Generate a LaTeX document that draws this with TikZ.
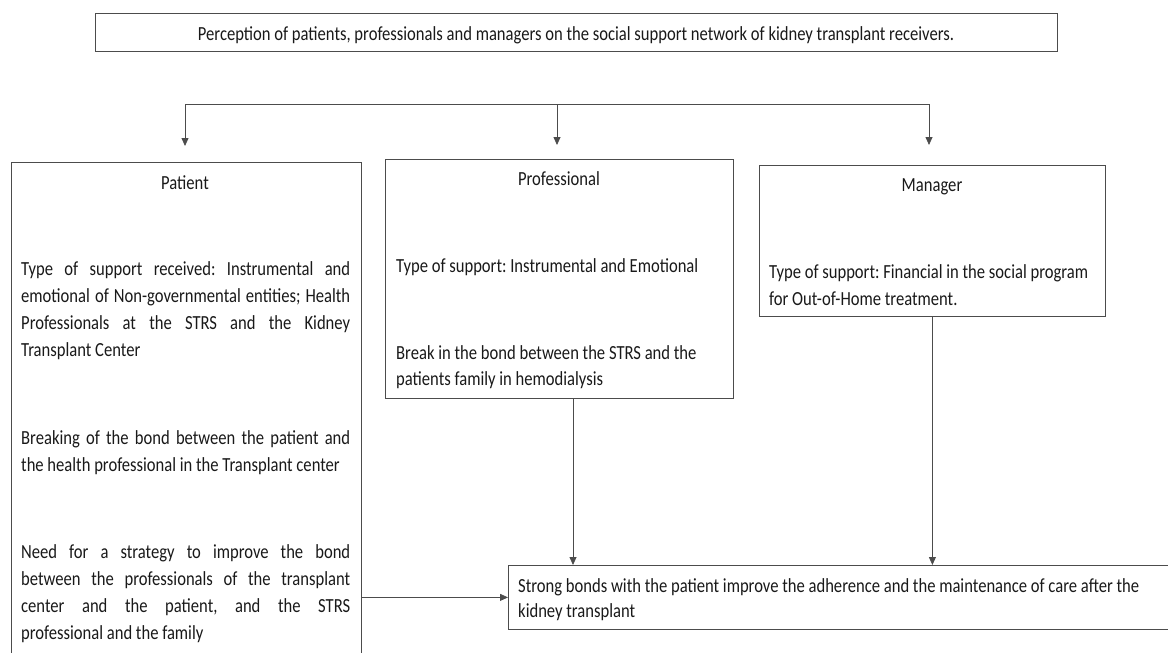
\documentclass[tikz,border=0pt]{standalone}
\usepackage{fontspec}
\setmainfont{Carlito}[FakeStretch=0.83]
\usetikzlibrary{arrows.meta}
\tikzset{
  box/.style={draw=black!70, line width=0.8pt, rectangle, inner sep=0pt, anchor=north west},
  conn/.style={draw=black!70, line width=0.8pt},
  arr/.style={conn, -{Triangle[length=8pt,width=7pt]}},
  txt/.style={inner sep=0pt, text=black!90, font=\fontsize{20}{27}\selectfont},
}
\newcommand{\jline}[1]{\makebox[\linewidth][s]{#1}}
\frenchspacing
\begin{document}
\frenchspacing
\begin{tikzpicture}[x=1pt,y=-1pt]
\clip (0,0) rectangle (1168,653);
% boxes
\node[box, minimum width=962pt, minimum height=38pt] (title) at (95,13) {};
\node[box, minimum width=350pt, minimum height=540pt] (patient) at (11,162) {};
\node[box, minimum width=348pt, minimum height=239pt] (prof) at (385,159) {};
\node[box, minimum width=346pt, minimum height=151pt] (man) at (759,165) {};
\node[box, minimum width=680pt, minimum height=64pt] (strong) at (508,565) {};
% texts
\node[txt, anchor=base] (titletext) at (576,40) {Perception of patients, professionals and managers on the social support network of kidney transplant receivers.};
\node[txt, anchor=base] (pathead) at (185,189) {Patient};
\node[txt, anchor=base west] (pat1) at (21,275) {\parbox[t]{329pt}{\fontsize{20}{27}\selectfont
  \jline{Type of support received: Instrumental and}\\
  \jline{emotional of Non-governmental entities; Health}\\
  \jline{Professionals at the STRS and the Kidney}\\
  Transplant Center}};
\node[txt, anchor=base west] (pat2) at (21,444) {\parbox[t]{329pt}{\fontsize{20}{27}\selectfont
  \jline{Breaking of the bond between the patient and}\\
  the health professional in the Transplant center}};
\node[txt, anchor=base west] (pat3) at (21,558) {\parbox[t]{329pt}{\fontsize{20}{27}\selectfont
  \jline{Need for a strategy to improve the bond}\\
  \jline{between the professionals of the transplant}\\
  \jline{center and the patient, and the STRS}\\
  professional and the family}};
\node[txt, anchor=base] (profhead) at (559,185) {Professional};
\node[txt, anchor=base west] (prof1) at (396,272) {Type of support: Instrumental and Emotional};
\node[txt, anchor=base west] (prof2) at (396,359) {\parbox[t]{330pt}{\fontsize{20}{26}\selectfont
  Break in the bond between the STRS and the\\
  patients family in hemodialysis}};
\node[txt, anchor=base] (manhead) at (932,191) {Manager};
\node[txt, anchor=base west] (man1) at (769,278) {\parbox[t]{330pt}{\fontsize{20}{27}\selectfont
  Type of support: Financial in the social program\\
  for Out-of-Home treatment.}};
\node[txt, anchor=base west] (strong1) at (518,592) {\parbox[t]{640pt}{\fontsize{20}{25}\selectfont
  Strong bonds with the patient improve the adherence and the maintenance of care after the\\
  kidney transplant}};
% connectors
\coordinate (hl) at (185,104);
\coordinate (hr) at (929,104);
\coordinate (hm) at (557,104);
\coordinate (tpat) at (185,146);
\coordinate (tpro) at (557,145);
\coordinate (tman) at (929,145);
\coordinate (pa) at (573,0);
\draw[conn] (hl) -- (hr);
\draw[arr] (hl) -- (tpat);
\draw[arr] (hm) -- (tpro);
\draw[arr] (hr) -- (tman);
\draw[arr] (pa |- prof.south) -- (pa |- strong.north);
\draw[arr] (man.south) -- (man.south |- strong.north);
\draw[arr] (patient.east |- strong.west) -- (strong.west);
\end{tikzpicture}
\end{document}
